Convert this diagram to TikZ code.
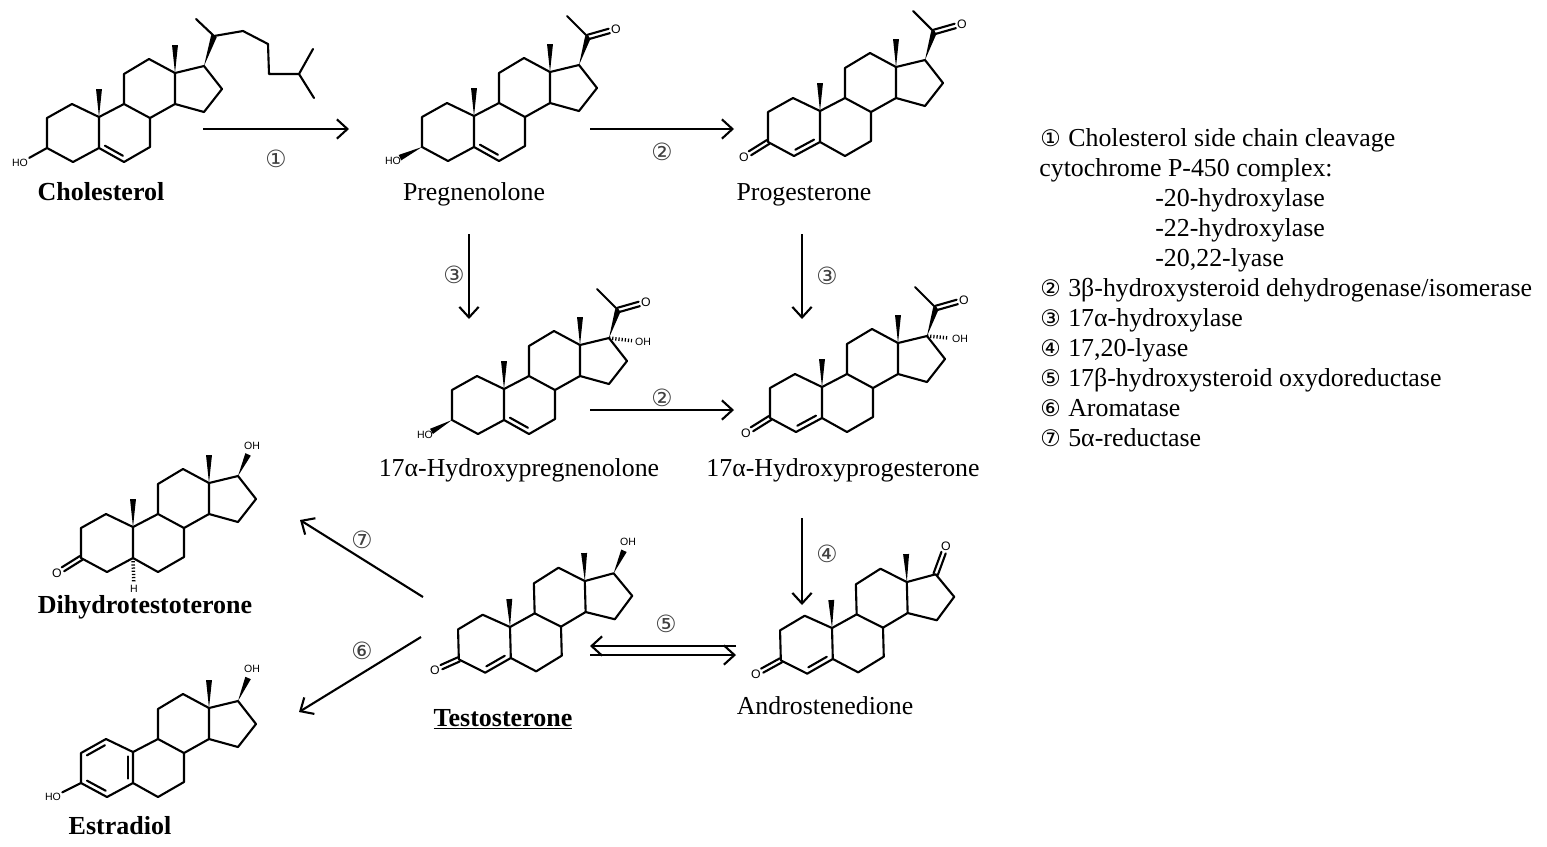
\documentclass[tikz,border=0pt]{standalone}
\usepackage{fontspec}
\setmainfont{Liberation Serif}
\newfontfamily\atomfont{Liberation Sans}
\newfontfamily\circfont{DejaVu Sans}
\usetikzlibrary{arrows.meta,calc}

% Plain steroid skeleton, C10 at the origin
\tikzset{
  steroid/.pic={
    \coordinate (-c10) at (0,0);
    \coordinate (-c1) at (-27,-13);
    \coordinate (-c2) at (-52,1);
    \coordinate (-c3) at (-52,31);
    \coordinate (-c4) at (-26,45);
    \coordinate (-c5) at (0,31);
    \coordinate (-c6) at (25,45);
    \coordinate (-c7) at (51,30);
    \coordinate (-c8) at (51,1);
    \coordinate (-c9) at (25,-13);
    \coordinate (-c11) at (25,-43);
    \coordinate (-c12) at (50,-58);
    \coordinate (-c13) at (76,-44);
    \coordinate (-c14) at (76,-13);
    \coordinate (-c15) at (105,-5);
    \coordinate (-c16) at (123,-28);
    \coordinate (-c17) at (105,-51);
    \coordinate (-c18) at (76,-72);
    \coordinate (-c19) at (0,-28);
    \coordinate (-c20) at (114,-79);
    \coordinate (-c21) at (93,-100);
    \coordinate (-o20) at (142,-87);
    \draw[bond] (-c10) -- (-c1) -- (-c2) -- (-c3) -- (-c4) -- (-c5) -- (-c10) -- (-c9) -- (-c8) -- (-c7) -- (-c6) -- (-c5);
    \draw[bond] (-c9) -- (-c11) -- (-c12) -- (-c13) -- (-c14) -- (-c8);
    \draw[bond] (-c13) -- (-c17) -- (-c16) -- (-c15) -- (-c14);
    \wedgeb{-c13}{-c18}
  }
}

% Bonds
\newcommand{\wedgeb}[2]{\fill ($(#2)!1.7pt!90:(#1)$) -- ($(#2)!1.7pt!-90:(#1)$) -- (#1) -- cycle;}
\newcommand{\hashb}[2]{\draw[line width=2pt, dash pattern=on .7pt off 1.1pt, shorten >=1pt] (#1) -- (#2);}
\newcommand{\ringdb}[2]{\draw[bond] ($($(#1)!.14!(#2)$)!2.8pt!90:(#2)$) -- ($($(#1)!.86!(#2)$)!2.8pt!90:(#2)$);}
\newcommand{\oxodb}[2]{%
  \draw[bond, shorten >=4pt] ($(#1)!1.3pt!90:(#2)$) -- ($(#2)!1.3pt!-90:(#1)$);
  \draw[bond, shorten >=4pt] ($(#1)!1.3pt!-90:(#2)$) -- ($(#2)!1.3pt!90:(#1)$);}
\newcommand{\cnum}[1]{\makebox[15.9pt][l]{\circfont\fontsize{13}{13}\selectfont #1}}

\begin{document}
\begin{tikzpicture}[
    x=0.02cm, y=-0.02cm,
    bond/.style={line width=1.2pt, line join=round, line cap=round},
    rxn/.style={line width=1.2pt, -{Straight Barb[length=6pt, width=11pt, line width=1.2pt]}},
    atom/.style={font=\atomfont\fontsize{6}{6}\selectfont, inner sep=0.6pt},
    oxy/.style={font=\atomfont\fontsize{7}{7}\selectfont, inner sep=0.6pt},
    cpdname/.style={anchor=base, font=\fontsize{14.7}{17}\selectfont},
    hormone/.style={anchor=base, font=\bfseries\fontsize{14.8}{17}\selectfont},
    enzyme/.style={anchor=base west, inner sep=0pt, font=\fontsize{14.73}{17}\selectfont},
    cn/.style={font=\circfont\fontsize{13.5}{14}\selectfont, text=black!75}
]
\useasboundingbox (0,0) rectangle (1547,846);

% Skeletons
\pic (chol) at (99,117) {steroid};
\pic (preg) at (474,116) {steroid};
\pic (prog) at (820,111) {steroid};
\pic (hpreg) at (504,389) {steroid};
\pic (hprog) at (822,387) {steroid};
\pic (dht) at (133,527) {steroid};
\pic (estr) at (133,752) {steroid};
\pic[rotate=1.5] (testo) at (510,627) {steroid};
\pic[rotate=1.5] (andro) at (832,628) {steroid};

% Methyl groups at C10
\foreach \m in {chol,preg,prog,hpreg,hprog,dht,testo,andro} {
  \wedgeb{\m-c10}{\m-c19}
}

% Ring double bonds
\foreach \m in {chol,preg,hpreg} {
  \ringdb{\m-c5}{\m-c6}
}
\foreach \m in {prog,hprog,testo,andro} {
  \ringdb{\m-c4}{\m-c5}
}
\ringdb{estr-c1}{estr-c2}
\ringdb{estr-c3}{estr-c4}
\ringdb{estr-c5}{estr-c10}

% Cholesterol side chain
\coordinate (chol-c20b) at (214,36);
\coordinate (chol-c21b) at (196,19);
\coordinate (chol-c22) at (243,31);
\coordinate (chol-c23) at (268,44);
\coordinate (chol-c24) at (269,74);
\coordinate (chol-c25) at (299,74);
\coordinate (chol-c26) at (313,49);
\coordinate (chol-c27) at (314,98);
\wedgeb{chol-c17}{chol-c20b}
\draw[bond] (chol-c21b) -- (chol-c20b) -- (chol-c22) -- (chol-c23) -- (chol-c24) -- (chol-c25) -- (chol-c26);
\draw[bond] (chol-c25) -- (chol-c27);

% Acetyl groups
\foreach \m in {preg,prog,hpreg,hprog} {
  \wedgeb{\m-c17}{\m-c20}
  \draw[bond] (\m-c21) -- (\m-c20);
  \node[oxy] (\m-o) at (\m-o20) {O};
  \oxodb{\m-c20}{\m-o}
}

% Atoms at C3
\node[atom] (chol-ho) at (20,163) {HO};
\draw[bond] (chol-c3) -- (chol-ho);
\node[atom] (preg-ho) at (393,161) {HO};
\coordinate (preg-tip) at ($(preg-c3)!.76!(preg-ho)$);
\wedgeb{preg-c3}{preg-tip}
\node[atom] (hpreg-ho) at (425,435) {HO};
\coordinate (hpreg-tip) at ($(hpreg-c3)!.76!(hpreg-ho)$);
\wedgeb{hpreg-c3}{hpreg-tip}
\node[oxy] (prog-o3) at (744,157) {O};
\oxodb{prog-c3}{prog-o3}
\node[oxy] (hprog-o3) at (746,433) {O};
\oxodb{hprog-c3}{hprog-o3}
\node[oxy] (dht-o3) at (57,573) {O};
\oxodb{dht-c3}{dht-o3}
\node[oxy] (testo-o3) at (435,670) {O};
\oxodb{testo-c3}{testo-o3}
\node[oxy] (andro-o3) at (756,674) {O};
\oxodb{andro-c3}{andro-o3}
\node[atom] (estr-ho) at (53,797) {HO};
\draw[bond] (estr-c3) -- (estr-ho);

% Atoms at C17
\node[atom] (hpreg-oh) at (643,342) {OH};
\hashb{hpreg-c17}{hpreg-oh}
\node[atom] (hprog-oh) at (960,339) {OH};
\hashb{hprog-c17}{hprog-oh}
\node[atom] (dht-oh) at (252,446) {OH};
\coordinate (dht-tip) at ($(dht-c17)!.72!(dht-oh)$);
\wedgeb{dht-c17}{dht-tip}
\node[atom] (estr-oh) at (252,669) {OH};
\coordinate (estr-tip) at ($(estr-c17)!.72!(estr-oh)$);
\wedgeb{estr-c17}{estr-tip}
\node[atom] (testo-oh) at (628,542) {OH};
\coordinate (testo-tip) at ($(testo-c17)!.72!(testo-oh)$);
\wedgeb{testo-c17}{testo-tip}
\node[oxy] (andro-o17) at (946,546) {O};
\oxodb{andro-c17}{andro-o17}

% The H of dihydrotestosterone
\node[atom] (dht-h) at (134,589) {H};
\hashb{dht-c5}{dht-h}

% Reaction arrows
\coordinate (a1s) at (203,129); \coordinate (a1e) at (349,129);
\coordinate (a2s) at (590,129); \coordinate (a2e) at (734,129);
\coordinate (a3s) at (469,234); \coordinate (a3e) at (469,319);
\coordinate (a4s) at (802,234); \coordinate (a4e) at (802,319);
\coordinate (a5s) at (590,410); \coordinate (a5e) at (734,410);
\coordinate (a6s) at (802,518); \coordinate (a6e) at (802,605);
\coordinate (a7s) at (736,646); \coordinate (a7e) at (590,646);
\coordinate (a8s) at (590,655); \coordinate (a8e) at (736,655);
\coordinate (a9s) at (423,597); \coordinate (a9e) at (300,520);
\coordinate (a10s) at (421,637); \coordinate (a10e) at (299,712);
\foreach \a in {1,...,10} {
  \draw[rxn] (a\a s) -- (a\a e);
}

% Numbers on the arrows
\node[cn] (n1) at (276,159) {①};
\node[cn] (n2) at (662,152) {②};
\node[cn] (n3) at (454,275) {③};
\node[cn] (n3b) at (827,276) {③};
\node[cn] (n2b) at (662,398) {②};
\node[cn] (n4) at (827,554) {④};
\node[cn] (n5) at (666,624) {⑤};
\node[cn] (n6) at (362,651) {⑥};
\node[cn] (n7) at (362,540) {⑦};

% Compound names
\node[hormone] (chol-name) at (101,200) {Cholesterol};
\node[cpdname] (preg-name) at (474,200) {Pregnenolone};
\node[cpdname] (prog-name) at (804,200) {Progesterone};
\node[cpdname] (hpreg-name) at (519,476) {17α-Hydroxypregnenolone};
\node[cpdname] (hprog-name) at (843,476) {17α-Hydroxyprogesterone};
\node[hormone] (dht-name) at (145,613) {Dihydrotestoterone};
\node[hormone] (estr-name) at (120,834) {Estradiol};
\node[hormone] (testo-name) at (503,726) {\underline{Testosterone}};
\node[cpdname] (andro-name) at (825,714) {Androstenedione};

% Enzyme list
\node[enzyme] (e1) at (1040,146) {\cnum{①}Cholesterol side chain cleavage};
\node[enzyme] (e1b) at (1039,176) {cytochrome P-450 complex:};
\node[enzyme] (e1c) at (1155,206) {-20-hydroxylase};
\node[enzyme] (e1d) at (1155,236) {-22-hydroxylase};
\node[enzyme] (e1e) at (1155,266) {-20,22-lyase};
\node[enzyme] (e2) at (1040,296) {\cnum{②}3β-hydroxysteroid dehydrogenase/isomerase};
\node[enzyme] (e3) at (1040,326) {\cnum{③}17α-hydroxylase};
\node[enzyme] (e4) at (1040,356) {\cnum{④}17,20-lyase};
\node[enzyme] (e5) at (1040,386) {\cnum{⑤}17β-hydroxysteroid oxydoreductase};
\node[enzyme] (e6) at (1040,416) {\cnum{⑥}Aromatase};
\node[enzyme] (e7) at (1040,446) {\cnum{⑦}5α-reductase};

\end{tikzpicture}
\end{document}
